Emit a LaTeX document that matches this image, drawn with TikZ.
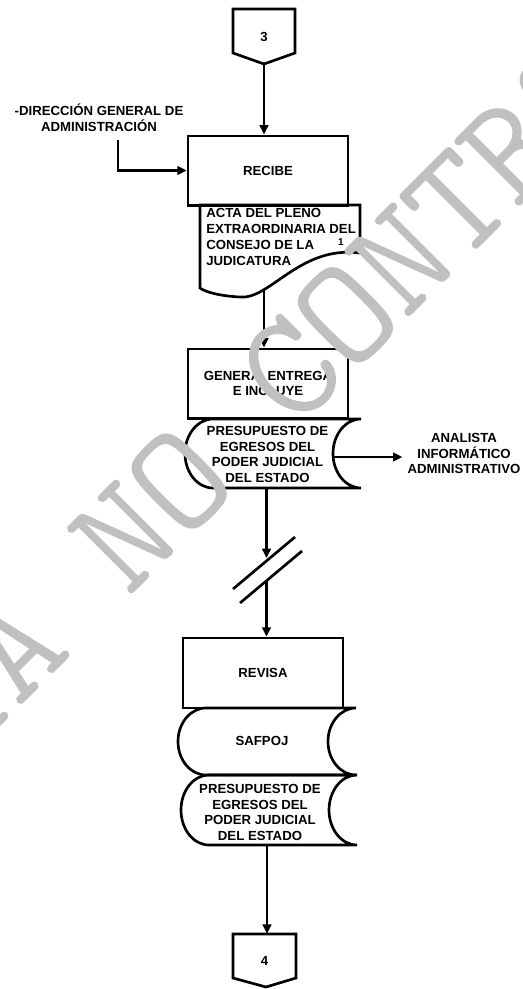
\documentclass[tikz,border=0pt]{standalone}
\usepackage{fontspec}
\setmainfont{Liberation Sans}
\newfontfamily\stampfont[FakeBold=1.5]{Latin Modern Mono Light}
\usetikzlibrary{arrows.meta}
\definecolor{stampgray}{RGB}{192,192,192}

% stored-data symbol: left extreme, right tip, top, bottom, arc depth
\newcommand\storedshape[5]{%
  \draw[outline] ({#1+#5},#3) -- (#2,#3)
    .. controls ({#2-0.5523*#5},#3) and ({#2-#5},{(#3+#4)/2-0.5523*(#4-#3)/2}) .. ({#2-#5},{(#3+#4)/2})
    .. controls ({#2-#5},{(#3+#4)/2+0.5523*(#4-#3)/2}) and ({#2-0.5523*#5},#4) .. (#2,#4)
    -- ({#1+#5},#4)
    .. controls ({#1+#5-0.5523*#5},#4) and (#1,{(#3+#4)/2+0.5523*(#4-#3)/2}) .. (#1,{(#3+#4)/2})
    .. controls (#1,{(#3+#4)/2-0.5523*(#4-#3)/2}) and ({#1+#5-0.5523*#5},#3) .. ({#1+#5},#3) -- cycle;}

\begin{document}
\begin{tikzpicture}[x=0.75pt,y=-0.75pt,
  every node/.style={font=\bfseries\fontsize{9.9}{11.85}\selectfont, inner sep=0pt, align=center},
  outline/.style={draw=black, line width=2pt, line join=miter},
  procbox/.style={outline, rectangle, minimum width=120pt, minimum height=52pt},
  flow/.style={draw=black, line width=2pt, -{Triangle[length=7pt,width=6.5pt]}},
  plainline/.style={draw=black, line width=2pt},
  stamp/.style={text=stampgray, font=\stampfont\fontsize{112}{112}\selectfont}]
\useasboundingbox (0,0) rectangle (523,989);
\clip (0,0) rectangle (523,989);

% off-page connector 3
\draw[outline] (233,9) -- (295,9) -- (295,53) -- (264,64) -- (233,53) -- cycle;
\node[minimum width=46.5pt, minimum height=41.25pt] (c3) at (264,36.5) {3};

% process: RECIBE
\node[procbox] (recibe) at (268,170.5) {RECIBE};

% incoming party
\node (dga) at (99,118) {-DIRECCIÓN GENERAL DE\\ADMINISTRACIÓN};
\coordinate (dgafoot) at (118,140);
\draw[flow] (dgafoot) |- (recibe.west);
\draw[flow] (c3.south) -- (c3.south |- recibe.north);

% document: acta
\draw[outline] (200,205) -- (360,205) -- (360,253)
  .. controls (300,245) and (270,300) .. (240,297)
  .. controls (220,296) and (205,292) .. (200,288) -- cycle;
\node[anchor=north west, align=left] (acta) at (206,208.5)
  {ACTA DEL PLENO\\EXTRAORDINARIA DEL\\CONSEJO DE LA\\JUDICATURA};
\node[font=\bfseries\fontsize{7.5}{9}\selectfont] (acta1) at (341,242) {1};
\coordinate (actawave) at (264,290);

% process: GENERA, ENTREGA E INCLUYE
\node[procbox] (genera) at (268,383.5) {GENERA, ENTREGA\\E INCLUYE};
\draw[flow] (actawave) -- (actawave |- genera.north);

% stored data: presupuesto
\storedshape{185}{361}{419}{488}{28}
\node (presup1) at (267.5,454.5) {PRESUPUESTO DE\\EGRESOS DEL\\PODER JUDICIAL\\DEL ESTADO};
\coordinate (p1notch) at (333,457);
\node[inner xsep=3.75pt] (analista) at (464,453.5) {ANALISTA\\INFORMÁTICO\\ADMINISTRATIVO};
\draw[flow] (p1notch) -- (p1notch -| analista.west);

% break in the flow line
\coordinate (p1foot) at (266.5,488);
\coordinate (brkin) at (266.5,558);
\coordinate (brkout) at (266.5,581);
\coordinate (b1a) at (233,589);
\coordinate (b1b) at (295,537);
\coordinate (b2a) at (240,603);
\coordinate (b2b) at (302,551);
\draw[flow] (p1foot) -- (brkin);
\draw[plainline] (b1a) -- (b1b);
\draw[plainline] (b2a) -- (b2b);

% process: REVISA
\node[procbox, minimum height=52.5pt] (revisa) at (263,673) {REVISA};
\draw[flow] (brkout) -- (brkout |- revisa.north);

% stored data: SAFPOJ and presupuesto
\storedshape{178}{356}{708}{775}{28}
\node (safpoj) at (262,741) {SAFPOJ};
\storedshape{181}{357}{775}{845}{28}
\node (presup2) at (260,812.5) {PRESUPUESTO DE\\EGRESOS DEL\\PODER JUDICIAL\\DEL ESTADO};

% off-page connector 4
\draw[outline] (233,934) -- (296,934) -- (296,978) -- (266,987) -- (233,978) -- cycle;
\node[minimum width=47.25pt, minimum height=39.75pt] (c4) at (264.5,960.5) {4};
\coordinate (p2foot) at (267,845);
\draw[flow] (p2foot) -- (p2foot |- c4.north);

% watermark
\node[stamp, rotate=45] (stampmark) at (290,370) {COPIA NO CONTROLADA};
\end{tikzpicture}
\end{document}
